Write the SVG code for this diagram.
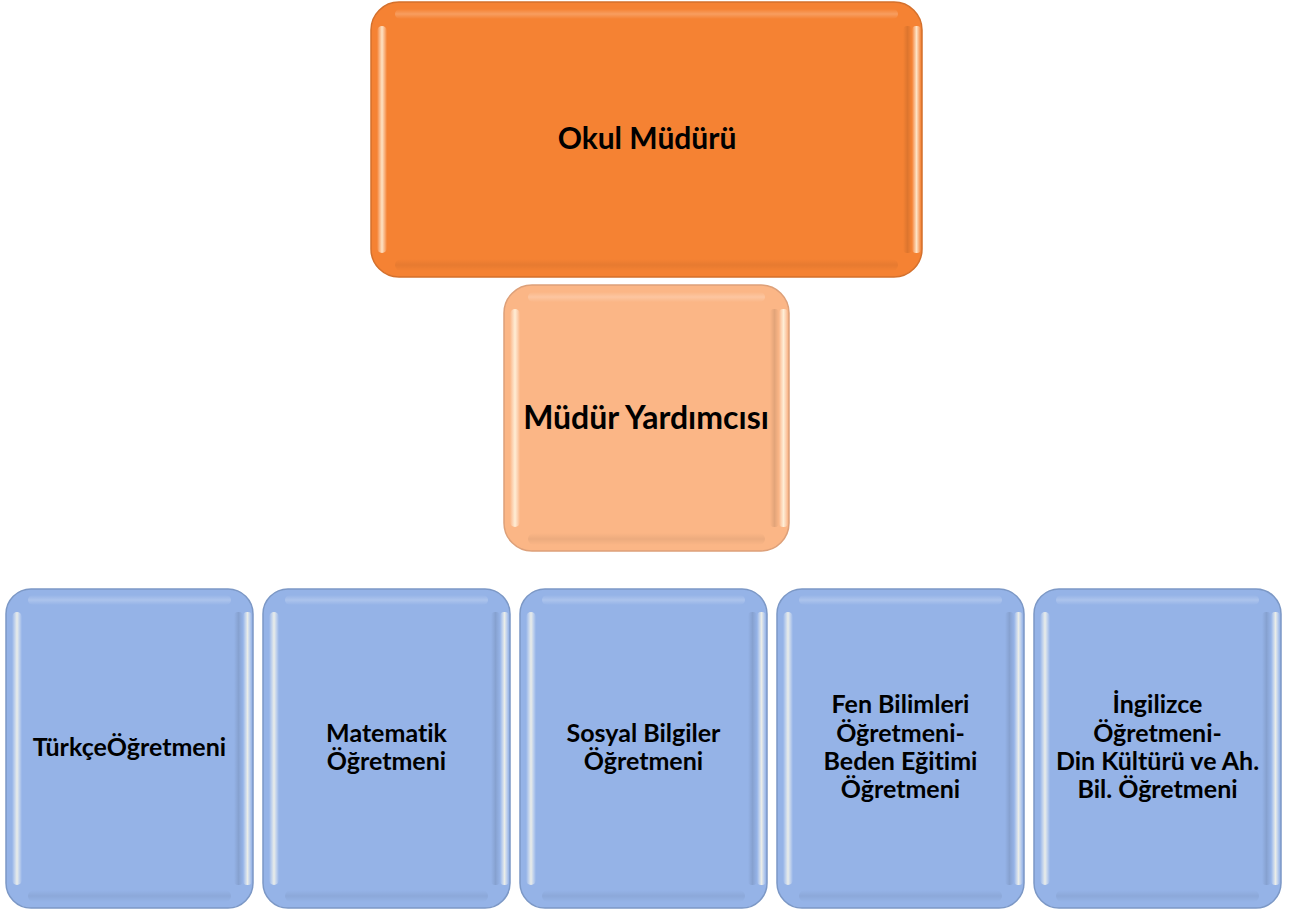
<svg xmlns="http://www.w3.org/2000/svg" width="1290" height="912" viewBox="0 0 1290 912">
<defs>
<linearGradient id="hlH" x1="0" y1="0" x2="1" y2="0">
<stop offset="0" stop-color="#fff" stop-opacity="0"/>
<stop offset="0.5" stop-color="#fffbe8" stop-opacity="0.8"/>
<stop offset="1" stop-color="#fff" stop-opacity="0"/>
</linearGradient>
<linearGradient id="hlV" x1="0" y1="0" x2="0" y2="1">
<stop offset="0" stop-color="#fff" stop-opacity="0"/>
<stop offset="0.5" stop-color="#fff" stop-opacity="0.22"/>
<stop offset="1" stop-color="#fff" stop-opacity="0"/>
</linearGradient>
<linearGradient id="shH" x1="0" y1="0" x2="1" y2="0">
<stop offset="0" stop-color="#000" stop-opacity="0"/>
<stop offset="0.5" stop-color="#000" stop-opacity="0.1"/>
<stop offset="1" stop-color="#000" stop-opacity="0"/>
</linearGradient>
<linearGradient id="shV" x1="0" y1="0" x2="0" y2="1">
<stop offset="0" stop-color="#000" stop-opacity="0"/>
<stop offset="0.5" stop-color="#000" stop-opacity="0.06"/>
<stop offset="1" stop-color="#000" stop-opacity="0"/>
</linearGradient>
</defs>
<style>
.lbl{font-family:Lato,"Liberation Sans",sans-serif;font-weight:bold;fill:#000;text-anchor:middle;font-variant-ligatures:none;font-feature-settings:"liga" 0,"dlig" 0}
.top{font-size:30px}
.mid{font-size:32px}
.sm{font-size:25px}
.orange{fill:#F58233;stroke:#D4702C;stroke-width:1.5}
.peach{fill:#FBB686;stroke:#DDA079;stroke-width:1.5}
.blue{fill:#95B3E7;stroke:#7C98C6;stroke-width:1.5}
.hl{fill:url(#hlH)}
.hv{fill:url(#hlV)}
.sh{fill:url(#shH)}
.sv{fill:url(#shV)}
</style>
<g id="connectors"></g>

<g id="node-okul-muduru">
<rect class="orange" x="371" y="2" width="551" height="275" rx="28"/>
<rect class="hv" x="395" y="9" width="503" height="10" rx="5"/>
<rect class="sv" x="395" y="259" width="503" height="12" rx="6"/>
<rect class="hl" x="377" y="26" width="10" height="227" rx="5"/>
<rect class="sh" x="903" y="26" width="9" height="227" rx="4"/>
<rect class="hl" x="912" y="26" width="9" height="227" rx="4"/>
<text class="lbl top" x="647" y="149">Okul Müdürü</text>
</g>

<g id="node-mudur-yardimcisi">
<rect class="peach" x="504" y="285" width="285" height="266" rx="28"/>
<rect class="hv" x="528" y="292" width="237" height="10" rx="5"/>
<rect class="sv" x="528" y="533" width="237" height="12" rx="6"/>
<rect class="hl" x="510" y="309" width="10" height="218" rx="5"/>
<rect class="sh" x="770" y="309" width="9" height="218" rx="4"/>
<rect class="hl" x="779" y="309" width="9" height="218" rx="4"/>
<text class="lbl mid" x="646" y="429">Müdür Yardımcısı</text>
</g>

<g id="node-turkce">
<rect class="blue" x="6" y="589" width="247" height="319" rx="25"/>
<rect class="hv" x="28" y="595" width="203" height="10" rx="5"/>
<rect class="sv" x="28" y="890" width="203" height="12" rx="6"/>
<rect class="hl" x="12" y="612" width="10" height="273" rx="5"/>
<rect class="sh" x="234" y="612" width="9" height="273" rx="4"/>
<rect class="hl" x="243" y="612" width="9" height="273" rx="4"/>
<text class="lbl sm" x="129.5" y="756">TürkçeÖğretmeni</text>
</g>

<g id="node-matematik">
<rect class="blue" x="263" y="589" width="247" height="319" rx="25"/>
<rect class="hv" x="285" y="595" width="203" height="10" rx="5"/>
<rect class="sv" x="285" y="890" width="203" height="12" rx="6"/>
<rect class="hl" x="269" y="612" width="10" height="273" rx="5"/>
<rect class="sh" x="491" y="612" width="9" height="273" rx="4"/>
<rect class="hl" x="500" y="612" width="9" height="273" rx="4"/>
<text class="lbl sm" x="386.5" y="742">Matematik</text>
<text class="lbl sm" x="386.5" y="770">Öğretmeni</text>
</g>

<g id="node-sosyal">
<rect class="blue" x="520" y="589" width="247" height="319" rx="25"/>
<rect class="hv" x="542" y="595" width="203" height="10" rx="5"/>
<rect class="sv" x="542" y="890" width="203" height="12" rx="6"/>
<rect class="hl" x="526" y="612" width="10" height="273" rx="5"/>
<rect class="sh" x="748" y="612" width="9" height="273" rx="4"/>
<rect class="hl" x="757" y="612" width="9" height="273" rx="4"/>
<text class="lbl sm" x="643.5" y="742">Sosyal Bilgiler</text>
<text class="lbl sm" x="643.5" y="770">Öğretmeni</text>
</g>

<g id="node-fen">
<rect class="blue" x="777" y="589" width="247" height="319" rx="25"/>
<rect class="hv" x="799" y="595" width="203" height="10" rx="5"/>
<rect class="sv" x="799" y="890" width="203" height="12" rx="6"/>
<rect class="hl" x="783" y="612" width="10" height="273" rx="5"/>
<rect class="sh" x="1005" y="612" width="9" height="273" rx="4"/>
<rect class="hl" x="1014" y="612" width="9" height="273" rx="4"/>
<text class="lbl sm" x="900.5" y="713">Fen Bilimleri</text>
<text class="lbl sm" x="900.5" y="741.5">Öğretmeni-</text>
<text class="lbl sm" x="900.5" y="770">Beden Eğitimi</text>
<text class="lbl sm" x="900.5" y="798">Öğretmeni</text>
</g>

<g id="node-ingilizce">
<rect class="blue" x="1034" y="589" width="247" height="319" rx="25"/>
<rect class="hv" x="1056" y="595" width="203" height="10" rx="5"/>
<rect class="sv" x="1056" y="890" width="203" height="12" rx="6"/>
<rect class="hl" x="1040" y="612" width="10" height="273" rx="5"/>
<rect class="sh" x="1262" y="612" width="9" height="273" rx="4"/>
<rect class="hl" x="1271" y="612" width="9" height="273" rx="4"/>
<text class="lbl sm" x="1157.5" y="713">İngilizce</text>
<text class="lbl sm" x="1157.5" y="741.5">Öğretmeni-</text>
<text class="lbl sm" x="1157.5" y="770">Din Kültürü ve Ah.</text>
<text class="lbl sm" x="1157.5" y="798">Bil. Öğretmeni</text>
</g>
</svg>
